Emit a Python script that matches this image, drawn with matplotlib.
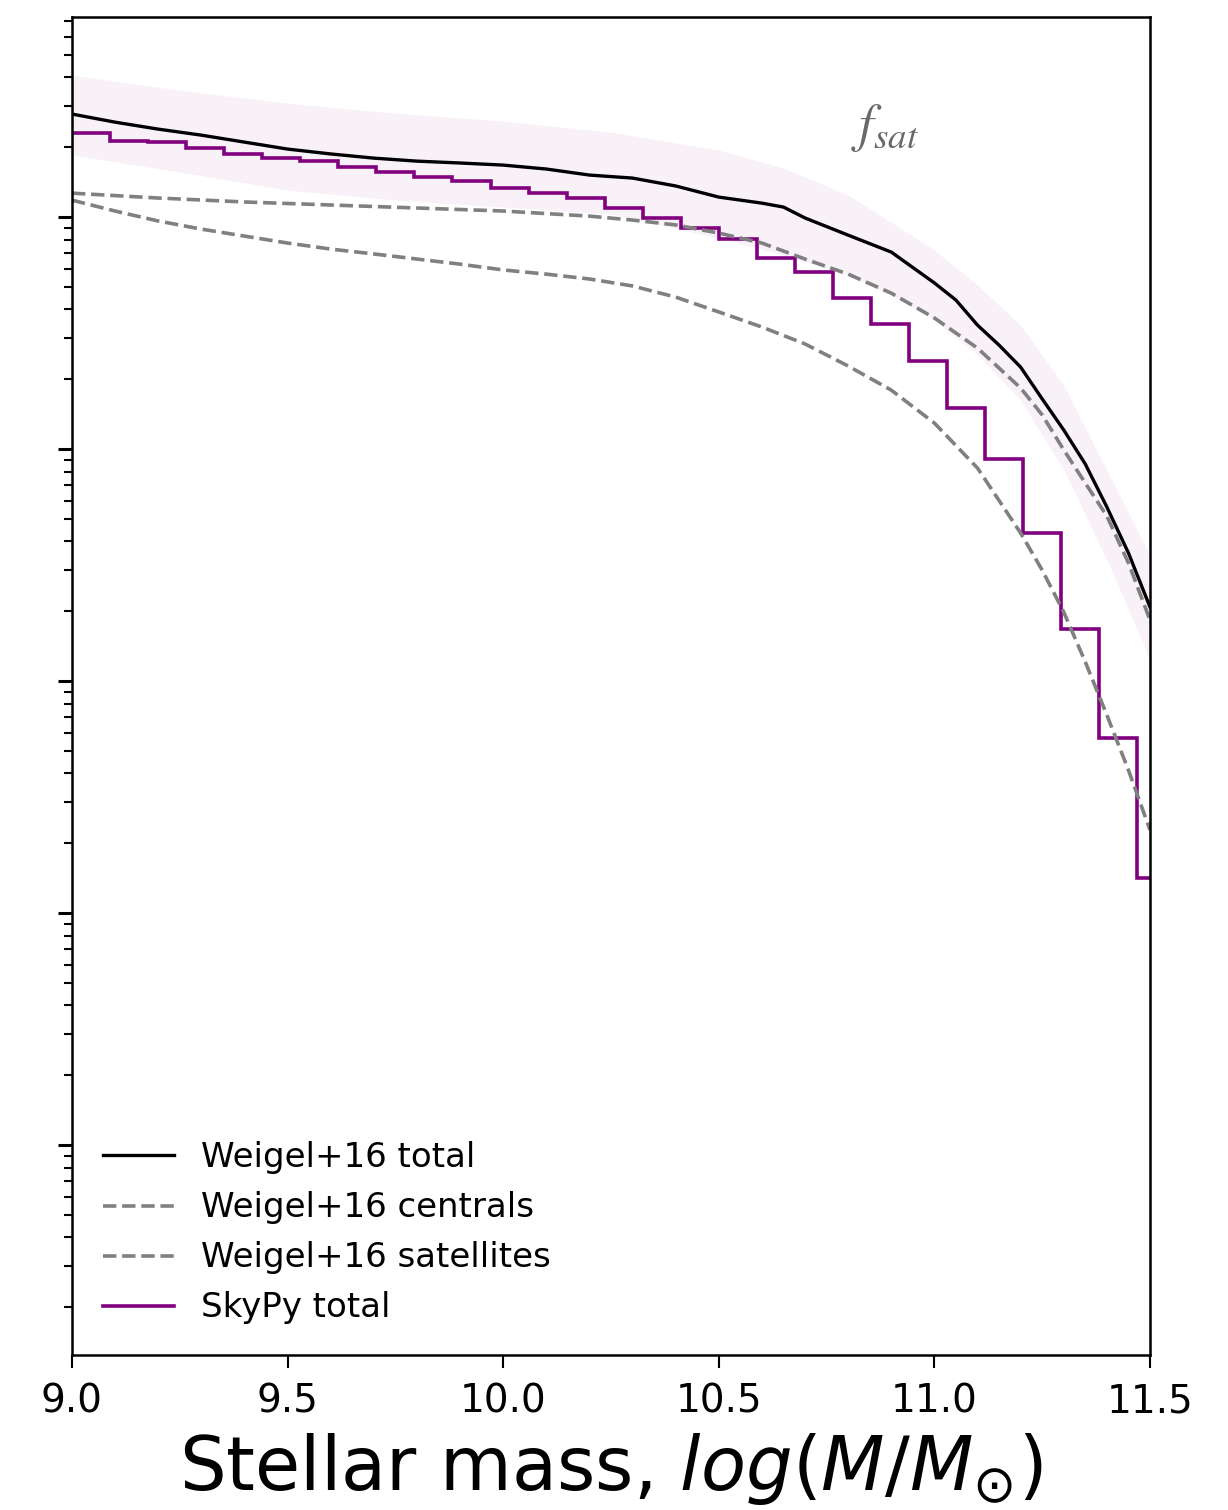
import matplotlib
matplotlib.use("Agg")
import matplotlib.pyplot as plt
import numpy as np

# log10 of the mass function
mass_total = [9.0, 9.1, 9.2, 9.3, 9.4, 9.5, 9.6, 9.7, 9.8, 9.9, 10.0, 10.1, 10.2, 10.3,
              10.4, 10.5, 10.6, 10.65, 10.7, 10.8, 10.9, 11.0, 11.05, 11.1, 11.15, 11.2,
              11.25, 11.3, 11.35, 11.4, 11.45, 11.5]
log_total = [-1.556, -1.591, -1.621, -1.647, -1.677, -1.707, -1.728, -1.746, -1.759, -1.767,
             -1.776, -1.793, -1.819, -1.832, -1.866, -1.914, -1.940, -1.957, -2.004, -2.078,
             -2.151, -2.284, -2.358, -2.466, -2.552, -2.647, -2.784, -2.918, -3.065, -3.250,
             -3.448, -3.681]

mass_cen = [9.0, 9.2, 9.4, 9.6, 9.8, 10.0, 10.2, 10.3, 10.4, 10.5, 10.6, 10.7, 10.8, 10.9,
            11.0, 11.1, 11.2, 11.25, 11.3, 11.35, 11.4, 11.45, 11.5]
log_cen = [-1.897, -1.918, -1.935, -1.948, -1.961, -1.974, -1.996, -2.013, -2.034, -2.069,
           -2.112, -2.181, -2.246, -2.328, -2.435, -2.565, -2.737, -2.853, -3.004, -3.147,
           -3.289, -3.491, -3.737]

mass_sat = [9.0, 9.1, 9.2, 9.3, 9.4, 9.5, 9.6, 9.7, 9.8, 9.9, 10.0, 10.1, 10.2, 10.3, 10.4,
            10.5, 10.6, 10.7, 10.8, 10.9, 11.0, 11.1, 11.2, 11.25, 11.3, 11.35, 11.4, 11.45, 11.5]
log_sat = [-1.927, -1.974, -2.017, -2.052, -2.082, -2.112, -2.138, -2.159, -2.181, -2.203,
           -2.228, -2.246, -2.267, -2.297, -2.345, -2.409, -2.474, -2.547, -2.642, -2.746,
           -2.888, -3.082, -3.362, -3.522, -3.703, -3.918, -4.147, -4.384, -4.642]

mass_band = [9.0, 9.25, 9.5, 9.75, 10.0, 10.25, 10.5, 10.65, 10.8, 10.9, 11.0, 11.1, 11.2,
             11.3, 11.4, 11.5]
log_band_hi = [-1.388, -1.453, -1.509, -1.552, -1.586, -1.634, -1.711, -1.789, -1.905, -2.022,
               -2.142, -2.293, -2.466, -2.724, -3.091, -3.457]
log_band_lo = [-1.733, -1.806, -1.884, -1.927, -1.957, -1.987, -2.091, -2.164, -2.250, -2.336,
               -2.444, -2.595, -2.789, -3.091, -3.478, -3.909]

# SkyPy histogram, bins of width 4.5/51 starting at 9.0
bin_edges = np.linspace(9.0, 9.0 + 29 * 4.5 / 51, 30)
log_skypy = [-1.638, -1.672, -1.677, -1.703, -1.728, -1.746, -1.759, -1.784, -1.806, -1.828,
             -1.845, -1.875, -1.897, -1.918, -1.961, -2.004, -2.047, -2.095, -2.177, -2.237,
             -2.349, -2.461, -2.621, -2.823, -3.043, -3.362, -3.776, -4.246, -4.849]

xticks = [9.0, 9.5, 10.0, 10.5, 11.0, 11.5]

fig = plt.figure(figsize=(12.28, 15.10), dpi=100)
ax = fig.add_axes([0.0586, 0.1026, 0.8779, 0.8861])

ax.fill_between(mass_band, 10 ** np.array(log_band_lo), 10 ** np.array(log_band_hi),
                color="purple", alpha=0.05, lw=0)
ax.plot(mass_total, 10 ** np.array(log_total), color="k", lw=2.4, label="Weigel+16 total")
ax.plot(mass_cen, 10 ** np.array(log_cen), color="grey", lw=2.6, ls="--",
        label="Weigel+16 centrals")
ax.plot(mass_sat, 10 ** np.array(log_sat), color="grey", lw=2.6, ls="--",
        label="Weigel+16 satellites")
ax.stairs(10 ** np.array(log_skypy), bin_edges, color="purple", lw=2.6, baseline=None,
          label="SkyPy total")

ax.set_yscale("log")
ax.set_xlim(9.0, 11.5)
ax.set_ylim(10 ** -6.905, 10 ** -1.138)
ax.set_xticks(xticks)
ax.set_xticklabels([f"{t:.1f}" for t in xticks], fontsize=28)
ax.yaxis.set_tick_params(labelleft=False)
ax.yaxis.set_tick_params(which="major", length=10, width=2.2)
ax.yaxis.set_tick_params(which="minor", length=6, width=1.5)
ax.xaxis.set_tick_params(which="major", length=9, width=1.5, pad=11)
for s in ax.spines.values():
    s.set_linewidth(1.8)

ax.set_xlabel(r"Stellar mass, $log(M/M_{\odot})$", fontsize=53, labelpad=7)

ax.text(0.754, 0.917, r"$f_{sat}$", transform=ax.transAxes, fontsize=38,
        color="dimgray", math_fontfamily="stix", ha="center", va="center")

ax.legend(loc="lower left", frameon=False, fontsize=24.5, handlelength=2.1,
          handletextpad=0.8, labelspacing=0.5)

fig.savefig("out.png", dpi=100)
